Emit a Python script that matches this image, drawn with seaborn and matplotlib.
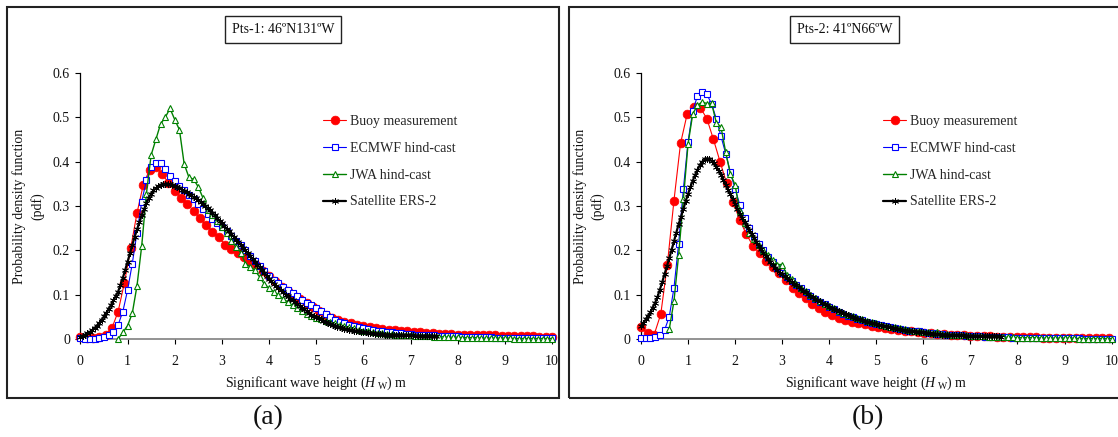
import numpy as np
import pandas as pd
import matplotlib
matplotlib.use("Agg")
import matplotlib.pyplot as plt
import seaborn as sns
from matplotlib.patches import Rectangle

sns.set_theme(style="ticks")
plt.rcParams['font.family'] = ['Liberation Serif', 'DejaVu Serif']
plt.rcParams['mathtext.fontset'] = 'custom'
plt.rcParams['mathtext.rm'] = 'Liberation Serif'
plt.rcParams['mathtext.it'] = 'Liberation Serif:italic'

# ---------------- data ----------------
series_names = ["Buoy measurement", "ECMWF hind-cast", "JWA hind-cast", "Satellite ERS-2"]
panel_titles = ["Pts-1: 46ºN131ºW", "Pts-2: 41ºN66ºW"]
panel_captions = ["(a)", "(b)"]
x_ticks = [0, 1, 2, 3, 4, 5, 6, 7, 8, 9, 10]
y_ticks = [0, 0.1, 0.2, 0.3, 0.4, 0.5, 0.6]
y_tick_labels = ["0", "0.1", "0.2", "0.3", "0.4", "0.5", "0.6"]

# Panel (a) ----------------------------------------------------------
buoy_a_step, buoy_a_start = 10 / 75, 0.0
buoy_a = [0.005, 0.003, 0.003, 0.004, 0.010, 0.024, 0.062, 0.127, 0.205, 0.284,
          0.348, 0.382, 0.387, 0.373, 0.352, 0.334, 0.319, 0.305, 0.289, 0.272,
          0.257, 0.242, 0.229, 0.213, 0.204, 0.195, 0.186, 0.177, 0.166, 0.154,
          0.142, 0.130, 0.118, 0.108, 0.098, 0.090, 0.081, 0.072, 0.063, 0.055,
          0.048, 0.042, 0.038, 0.035, 0.032, 0.029, 0.027, 0.025, 0.023, 0.021,
          0.020, 0.018, 0.017, 0.016, 0.015, 0.014, 0.013, 0.012, 0.012, 0.011,
          0.010, 0.010, 0.009, 0.009, 0.008, 0.008, 0.008, 0.007, 0.007, 0.007,
          0.006, 0.006, 0.006, 0.005, 0.005, 0.005]

ecmwf_a_step, ecmwf_a_start = 0.1, 0.0
ecmwf_a = [0.002, 0.001, 0.001, 0.001, 0.002, 0.004, 0.008, 0.015, 0.032, 0.062,
           0.110, 0.170, 0.240, 0.310, 0.358, 0.388, 0.398, 0.397, 0.383, 0.368,
           0.356, 0.345, 0.335, 0.325, 0.315, 0.304, 0.293, 0.282, 0.271, 0.261,
           0.252, 0.243, 0.233, 0.222, 0.211, 0.200, 0.188, 0.176, 0.165, 0.154,
           0.143, 0.133, 0.126, 0.118, 0.110, 0.103, 0.096, 0.089, 0.082, 0.076,
           0.069, 0.063, 0.056, 0.049, 0.043, 0.039, 0.035, 0.032, 0.029, 0.027,
           0.025, 0.023, 0.021, 0.019, 0.018, 0.016, 0.015, 0.014, 0.013, 0.012,
           0.011, 0.010, 0.010, 0.009, 0.008, 0.008, 0.007, 0.007, 0.006, 0.006,
           0.006, 0.005, 0.005, 0.005, 0.004, 0.004, 0.004, 0.004, 0.003, 0.003,
           0.003, 0.003, 0.003, 0.003, 0.002, 0.002, 0.002, 0.002, 0.002, 0.002,
           0.002]

jwa_a_step, jwa_a_start = 0.1, 0.8
jwa_a = [0.000, 0.015, 0.030, 0.058, 0.120, 0.210, 0.328, 0.415, 0.450, 0.485,
         0.500, 0.520, 0.495, 0.472, 0.395, 0.365, 0.360, 0.343, 0.318, 0.292,
         0.279, 0.266, 0.253, 0.238, 0.222, 0.207, 0.195, 0.170, 0.163, 0.155,
         0.140, 0.124, 0.115, 0.107, 0.099, 0.091, 0.083, 0.076, 0.069, 0.063,
         0.057, 0.052, 0.047, 0.044, 0.041, 0.038, 0.035, 0.032, 0.029, 0.026,
         0.024, 0.021, 0.019, 0.017, 0.016, 0.014, 0.013, 0.012, 0.011, 0.010,
         0.009, 0.009, 0.008, 0.007, 0.007, 0.006, 0.006, 0.005, 0.005, 0.005,
         0.004, 0.004, 0.004, 0.003, 0.003, 0.003, 0.003, 0.002, 0.002, 0.002,
         0.002, 0.002, 0.002, 0.002, 0.001, 0.001, 0.001, 0.001, 0.001, 0.001,
         0.001, 0.001, 0.001]

sat_a_step, sat_a_start = 0.05, 0.0
sat_a = [0.005, 0.007, 0.010, 0.013, 0.016, 0.020, 0.025, 0.030, 0.036, 0.043,
         0.051, 0.059, 0.068, 0.077, 0.087, 0.097, 0.107, 0.122, 0.138, 0.156,
         0.174, 0.193, 0.212, 0.230, 0.247, 0.263, 0.279, 0.293, 0.306, 0.318,
         0.328, 0.335, 0.340, 0.344, 0.347, 0.349, 0.350, 0.350, 0.349, 0.347,
         0.345, 0.343, 0.340, 0.337, 0.334, 0.331, 0.327, 0.324, 0.320, 0.317,
         0.313, 0.309, 0.304, 0.300, 0.295, 0.290, 0.285, 0.279, 0.273, 0.267,
         0.261, 0.255, 0.249, 0.243, 0.237, 0.231, 0.224, 0.218, 0.212, 0.206,
         0.200, 0.193, 0.187, 0.181, 0.174, 0.168, 0.162, 0.155, 0.149, 0.143,
         0.136, 0.130, 0.125, 0.120, 0.115, 0.110, 0.105, 0.100, 0.096, 0.091,
         0.087, 0.083, 0.079, 0.075, 0.071, 0.067, 0.063, 0.059, 0.055, 0.052,
         0.049, 0.047, 0.044, 0.041, 0.039, 0.037, 0.034, 0.032, 0.030, 0.028,
         0.026, 0.025, 0.023, 0.022, 0.021, 0.020, 0.019, 0.018, 0.017, 0.016,
         0.015, 0.015, 0.014, 0.013, 0.013, 0.012, 0.012, 0.011, 0.011, 0.010,
         0.010, 0.010, 0.009, 0.009, 0.009, 0.009, 0.008, 0.008, 0.008, 0.008,
         0.008, 0.008, 0.007, 0.007, 0.007, 0.007, 0.007, 0.007, 0.007, 0.007,
         0.006, 0.006]

# Panel (b) ----------------------------------------------------------
buoy_b_step, buoy_b_start = 0.14, 0.0
buoy_b = [0.026, 0.013, 0.010, 0.056, 0.168, 0.312, 0.441, 0.507, 0.523, 0.522,
          0.497, 0.450, 0.400, 0.351, 0.308, 0.268, 0.236, 0.210, 0.193, 0.177,
          0.163, 0.149, 0.133, 0.116, 0.103, 0.092, 0.079, 0.069, 0.061, 0.054,
          0.047, 0.043, 0.039, 0.036, 0.033, 0.030, 0.027, 0.025, 0.023, 0.021,
          0.019, 0.017, 0.016, 0.014, 0.013, 0.012, 0.011, 0.010, 0.009, 0.008,
          0.007, 0.007, 0.006, 0.006, 0.005, 0.005, 0.005, 0.004, 0.004, 0.004,
          0.004, 0.003, 0.003, 0.003, 0.003, 0.003, 0.003, 0.003, 0.002, 0.002,
          0.002, 0.002]

ecmwf_b_step, ecmwf_b_start = 0.1, 0.0
ecmwf_b = [0.003, 0.003, 0.003, 0.004, 0.008, 0.020, 0.050, 0.115, 0.215, 0.338,
           0.445, 0.515, 0.548, 0.558, 0.552, 0.530, 0.497, 0.457, 0.418, 0.376,
           0.338, 0.303, 0.272, 0.250, 0.232, 0.215, 0.200, 0.186, 0.173, 0.160,
           0.150, 0.140, 0.131, 0.122, 0.114, 0.106, 0.098, 0.091, 0.084, 0.078,
           0.072, 0.067, 0.062, 0.057, 0.053, 0.049, 0.045, 0.042, 0.039, 0.036,
           0.033, 0.031, 0.029, 0.027, 0.025, 0.023, 0.021, 0.019, 0.018, 0.017,
           0.015, 0.014, 0.013, 0.012, 0.011, 0.010, 0.009, 0.009, 0.008, 0.007,
           0.007, 0.006, 0.006, 0.005, 0.005, 0.005, 0.004, 0.004, 0.004, 0.003,
           0.003, 0.003, 0.003, 0.003, 0.002, 0.002, 0.002, 0.002, 0.002, 0.002,
           0.002, 0.002, 0.002, 0.002, 0.001, 0.001, 0.001, 0.001, 0.001, 0.001,
           0.001]

jwa_b_step, jwa_b_start = 0.1, 0.6
jwa_b = [0.022, 0.085, 0.190, 0.315, 0.440, 0.508, 0.527, 0.535, 0.531, 0.532,
         0.488, 0.478, 0.421, 0.372, 0.347, 0.288, 0.262, 0.240, 0.225, 0.212,
         0.200, 0.190, 0.178, 0.168, 0.168, 0.145, 0.135, 0.125, 0.116, 0.108,
         0.100, 0.093, 0.086, 0.080, 0.074, 0.069, 0.064, 0.059, 0.055, 0.051,
         0.047, 0.044, 0.041, 0.038, 0.035, 0.032, 0.030, 0.028, 0.026, 0.024,
         0.022, 0.020, 0.019, 0.018, 0.016, 0.015, 0.014, 0.015, 0.012, 0.011,
         0.010, 0.009, 0.008, 0.008, 0.007, 0.007, 0.006, 0.006, 0.005, 0.005,
         0.005, 0.004, 0.004, 0.004, 0.003, 0.003, 0.003, 0.003, 0.003, 0.002,
         0.002, 0.002, 0.002, 0.002, 0.002, 0.002, 0.002, 0.001, 0.001, 0.001,
         0.001, 0.001, 0.001, 0.001, 0.001]

sat_b_step, sat_b_start = 0.05, 0.0
sat_b = [0.029, 0.036, 0.044, 0.052, 0.061, 0.071, 0.082, 0.095, 0.111, 0.128,
         0.146, 0.164, 0.182, 0.201, 0.220, 0.240, 0.259, 0.276, 0.293, 0.311,
         0.327, 0.343, 0.357, 0.370, 0.382, 0.392, 0.400, 0.405, 0.407, 0.406,
         0.402, 0.396, 0.389, 0.380, 0.370, 0.359, 0.348, 0.337, 0.326, 0.315,
         0.304, 0.293, 0.283, 0.273, 0.263, 0.254, 0.245, 0.236, 0.227, 0.219,
         0.210, 0.202, 0.194, 0.187, 0.180, 0.173, 0.166, 0.160, 0.155, 0.150,
         0.146, 0.141, 0.137, 0.133, 0.129, 0.125, 0.121, 0.117, 0.113, 0.109,
         0.105, 0.101, 0.098, 0.094, 0.091, 0.088, 0.085, 0.082, 0.079, 0.076,
         0.073, 0.070, 0.068, 0.065, 0.063, 0.060, 0.058, 0.056, 0.054, 0.052,
         0.050, 0.048, 0.046, 0.044, 0.042, 0.041, 0.039, 0.038, 0.036, 0.035,
         0.034, 0.032, 0.031, 0.030, 0.029, 0.027, 0.026, 0.025, 0.024, 0.023,
         0.022, 0.021, 0.020, 0.019, 0.018, 0.018, 0.017, 0.016, 0.016, 0.015,
         0.015, 0.014, 0.013, 0.013, 0.012, 0.012, 0.011, 0.011, 0.010, 0.010,
         0.010, 0.009, 0.009, 0.009, 0.008, 0.008, 0.008, 0.008, 0.007, 0.007,
         0.007, 0.007, 0.007, 0.007, 0.007, 0.007, 0.007, 0.006, 0.006, 0.006,
         0.006, 0.006, 0.006, 0.005]

panels = [
    [(buoy_a_start, buoy_a_step, buoy_a), (ecmwf_a_start, ecmwf_a_step, ecmwf_a),
     (jwa_a_start, jwa_a_step, jwa_a), (sat_a_start, sat_a_step, sat_a)],
    [(buoy_b_start, buoy_b_step, buoy_b), (ecmwf_b_start, ecmwf_b_step, ecmwf_b),
     (jwa_b_start, jwa_b_step, jwa_b), (sat_b_start, sat_b_step, sat_b)],
]

# ---------------- styles ----------------
styles = [
    dict(color="#FF0000", marker="o", markersize=6.3, markerfacecolor="#FF0000",
         markeredgecolor="#FF0000", linewidth=0.8, markeredgewidth=0.5),
    dict(color="#0000FF", marker="s", markersize=3.8, markerfacecolor="white",
         markeredgecolor="#0000FF", linewidth=0.8, markeredgewidth=0.8),
    dict(color="#008000", marker="^", markersize=5.0, markerfacecolor="white",
         markeredgecolor="#008000", linewidth=1.0, markeredgewidth=0.8),
    dict(color="#000000", marker=(6, 2, 0), markersize=5.0, markerfacecolor="black",
         markeredgecolor="#000000", linewidth=1.6, markeredgewidth=0.6),
]

W, H = 1118, 437
fig = plt.figure(figsize=(W / 100, H / 100), dpi=100)
fig.patch.set_facecolor("white")

axes_rects = [
    (80.4 / W, (H - 339) / H, (552.0 - 80.4) / W, (339 - 73) / H),
    (641.0 / W, (H - 339) / H, (1111.6 - 641.0) / W, (339 - 73) / H),
]
frame_rects = [
    (7 / W, (H - 398) / H, (559 - 7) / W, (398 - 7) / H),
    (569 / W, (H - 398) / H, (1125 - 569) / W, (398 - 7) / H),
]
title_pos = [(283 / W, (H - 29.5) / H), (844.5 / W, (H - 29.5) / H)]
caption_pos = [(268 / W, (H - 418) / H), (868 / W, (H - 418) / H)]

for p in range(2):
    fig.add_artist(Rectangle(frame_rects[p][:2], frame_rects[p][2], frame_rects[p][3],
                             transform=fig.transFigure, fill=False,
                             edgecolor="#222222", linewidth=1.5))
    ax = fig.add_axes(axes_rects[p])
    ax.set_facecolor("white")
    for k, (start, step, vals) in enumerate(panels[p]):
        xs = np.round(start + np.arange(len(vals)) * step, 4)
        df = pd.DataFrame({"x": xs, "y": vals})
        sns.lineplot(data=df, x="x", y="y", ax=ax, estimator=None, sort=False,
                     label=series_names[k], clip_on=False, zorder=3 + k,
                     **styles[k])
    ax.set_xlim(0, 10)
    ax.set_ylim(0, 0.6)
    ax.set_xticks(x_ticks)
    ax.set_xticklabels([str(t) for t in x_ticks])
    ax.set_yticks(y_ticks)
    ax.set_yticklabels(y_tick_labels)
    for s in ["top", "right"]:
        ax.spines[s].set_visible(False)
    ax.spines["left"].set_color("black")
    ax.spines["left"].set_linewidth(0.9)
    ax.spines["bottom"].set_color("#808080")
    ax.spines["bottom"].set_linewidth(1.2)
    ax.tick_params(axis="both", direction="out", length=3.5, width=0.8,
                   color="black", labelsize=10, labelcolor="#111111")
    ax.tick_params(axis="x", pad=8)
    ax.tick_params(axis="y", pad=4)
    ax.set_xlabel(r"Significant wave height ($H_{\ \mathrm{W}}$) m", fontsize=10,
                  labelpad=5, color="#111111")
    ax.set_ylabel("Probability density function\n(pdf)", fontsize=10,
                  linespacing=1.35, color="#111111")
    ax.yaxis.set_label_coords(-0.077, 0.5)
    ax.legend(loc="upper left", bbox_to_anchor=(0.515, 0.843), frameon=False,
              fontsize=10, handlelength=1.65, handletextpad=0.3,
              labelspacing=1.0, borderpad=0, borderaxespad=0)
    fig.text(title_pos[p][0], title_pos[p][1], panel_titles[p], ha="center",
             va="center", fontsize=10, color="#111111",
             bbox=dict(boxstyle="square,pad=0.5", facecolor="white",
                       edgecolor="#222222", linewidth=1.0))
    fig.text(caption_pos[p][0], caption_pos[p][1], panel_captions[p], ha="center",
             va="center", fontsize=20, color="#111111")

fig.savefig("out.png", dpi=100, facecolor="white")
